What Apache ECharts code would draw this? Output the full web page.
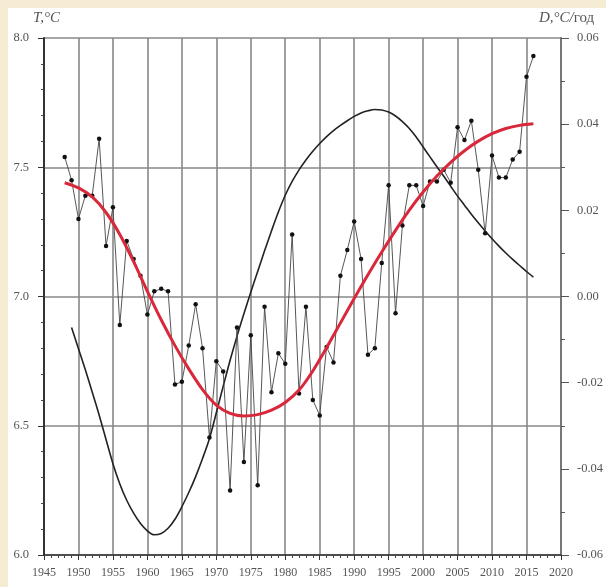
<!DOCTYPE html>
<html>
<head>
<meta charset="utf-8">
<script src="https://cdn.jsdelivr.net/npm/echarts@6/dist/echarts.min.js"></script>
<style>
html,body{margin:0;padding:0;width:606px;height:587px;background:#f6ebd3;overflow:hidden;}
#c{position:absolute;left:8px;top:8px;width:598px;height:579px;background:#fff;}
</style>
</head>
<body>
<div id="c"></div>
<script>
// Annual mean temperature, 1948-2016
const years = [];
for (let y = 1948; y <= 2016; y++) years.push(y);
const tempValues = [
 7.54, 7.45, 7.30, 7.39, 7.39, 7.61, 7.195, 7.345, 6.89, 7.215,
 7.145, 7.08, 6.93, 7.02, 7.03, 7.02, 6.66, 6.67, 6.81, 6.97,
 6.80, 6.455, 6.75, 6.71, 6.25, 6.88, 6.36, 6.85, 6.27, 6.96,
 6.63, 6.78, 6.74, 7.24, 6.625, 6.96, 6.60, 6.54, 6.805, 6.745,
 7.08, 7.18, 7.29, 7.145, 6.775, 6.80, 7.13, 7.43, 6.935, 7.275,
 7.43, 7.43, 7.35, 7.445, 7.445, 7.49, 7.44, 7.655, 7.605, 7.68,
 7.49, 7.245, 7.545, 7.46, 7.46, 7.53, 7.56, 7.85, 7.93
];
// Smoothed trend (red), every 2 years
const trendYears = [1948,1950,1952,1954,1956,1958,1960,1962,1964,1966,1968,1970,1972,1974,1976,1978,1980,1982,1984,1986,1988,1990,1992,1994,1996,1998,2000,2002,2004,2006,2008,2010,2012,2014,2016];
const trendValues = [7.44,7.42,7.385,7.325,7.24,7.135,7.02,6.91,6.81,6.72,6.64,6.58,6.548,6.538,6.543,6.56,6.59,6.638,6.712,6.802,6.897,6.992,7.084,7.172,7.256,7.334,7.404,7.466,7.519,7.564,7.601,7.630,7.650,7.662,7.668];
// Rate of change D (black curve, right axis), 1949-2016
const rateYears = [];
for (let y = 1949; y <= 2016; y++) rateYears.push(y);
const rateValues = [
 -0.0072,-0.0121,-0.0170,-0.0222,-0.0275,-0.0332,-0.0388,-0.0435,-0.0473,-0.0503,
 -0.0527,-0.0544,-0.0553,-0.0550,-0.0538,-0.0517,-0.0488,-0.0455,-0.0418,-0.0376,
 -0.0330,-0.0270,-0.0208,-0.0148,-0.0092,-0.0040,0.0010,0.0058,0.0106,0.0152,
 0.0196,0.0235,0.0267,0.0294,0.0317,0.0337,0.0355,0.0371,0.0385,0.0397,
 0.0408,0.0418,0.0426,0.0431,0.0434,0.0433,0.0428,0.0419,0.0406,0.0390,
 0.0370,0.0347,0.0324,0.0301,0.0279,0.0256,0.0233,0.0212,0.0191,0.0171,
 0.0152,0.0134,0.0117,0.0101,0.0086,0.0072,0.0058,0.0045
];
const xTicks = {min:1945, max:2020, step:5};
const tTicks = {min:6.0, max:8.0, step:0.5};
const dTicks = {min:-0.06, max:0.06, step:0.02};

const serif = '"Liberation Serif","DejaVu Serif",serif';
const labelColor = '#555';
const chart = echarts.init(document.getElementById('c'));
chart.setOption({
  animation:false,
  grid:{left:36, top:30, right:42, bottom:32},
  xAxis:{
    type:'value', min:xTicks.min, max:xTicks.max, interval:xTicks.step,
    axisLine:{onZero:false, lineStyle:{color:'#333', width:1.5}},
    axisTick:{show:true, length:5, lineStyle:{color:'#333'}},
    minorTick:{show:true, splitNumber:5, length:3, lineStyle:{color:'#444'}},
    axisLabel:{color:labelColor, fontFamily:serif, fontSize:12, margin:12, formatter:v=>String(v)},
    splitLine:{show:true, lineStyle:{color:'#888', width:1.6}}
  },
  yAxis:[{
    type:'value', min:tTicks.min, max:tTicks.max, interval:tTicks.step,
    axisLine:{show:true, lineStyle:{color:'#333', width:2}},
    axisTick:{show:true, inside:false, length:6, lineStyle:{color:'#333'}},
    minorTick:{show:true, splitNumber:5, length:3, lineStyle:{color:'#444'}},
    axisLabel:{color:labelColor, fontFamily:serif, fontSize:12.5, margin:15, formatter:v=>v.toFixed(1)},
    splitLine:{show:true, lineStyle:{color:'#888', width:1.6}}
  },{
    type:'value', min:dTicks.min, max:dTicks.max, interval:dTicks.step, position:'right',
    axisLine:{show:true, lineStyle:{color:'#777', width:2}},
    axisTick:{show:true, length:8, lineStyle:{color:'#555'}},
    minorTick:{show:true, splitNumber:2, length:4, lineStyle:{color:'#555'}},
    axisLabel:{color:labelColor, fontFamily:serif, fontSize:12.5, margin:16, formatter:v=>v.toFixed(2)},
    splitLine:{show:false}
  }],
  graphic:[
    {type:'text', left:25, top:3, style:{text:'T,°C', font:'italic 15px '+serif, fill:'#555'}},
    {type:'text', left:531, top:3, style:{
      text:'{i|D,°C/}{n|год}',
      rich:{
        i:{fontFamily:serif, fontStyle:'italic', fontSize:15, fill:'#555', color:'#555'},
        n:{fontFamily:serif, fontSize:15, fill:'#555', color:'#555'}
      }
    }}
  ],
  series:[
    {type:'line', yAxisIndex:1, data:rateYears.map((y,i)=>[y,rateValues[i]]), smooth:0.3, showSymbol:false,
     lineStyle:{color:'#222', width:1.6}, z:2},
    {type:'line', yAxisIndex:0, data:years.map((y,i)=>[y,tempValues[i]]), symbol:'circle', symbolSize:4.5,
     itemStyle:{color:'#111'}, lineStyle:{color:'#444', width:0.9}, z:3},
    {type:'line', yAxisIndex:0, data:trendYears.map((y,i)=>[y,trendValues[i]]), smooth:0.3, showSymbol:false,
     lineStyle:{color:'#d9283a', width:3}, z:4}
  ]
});
</script>
</body>
</html>
